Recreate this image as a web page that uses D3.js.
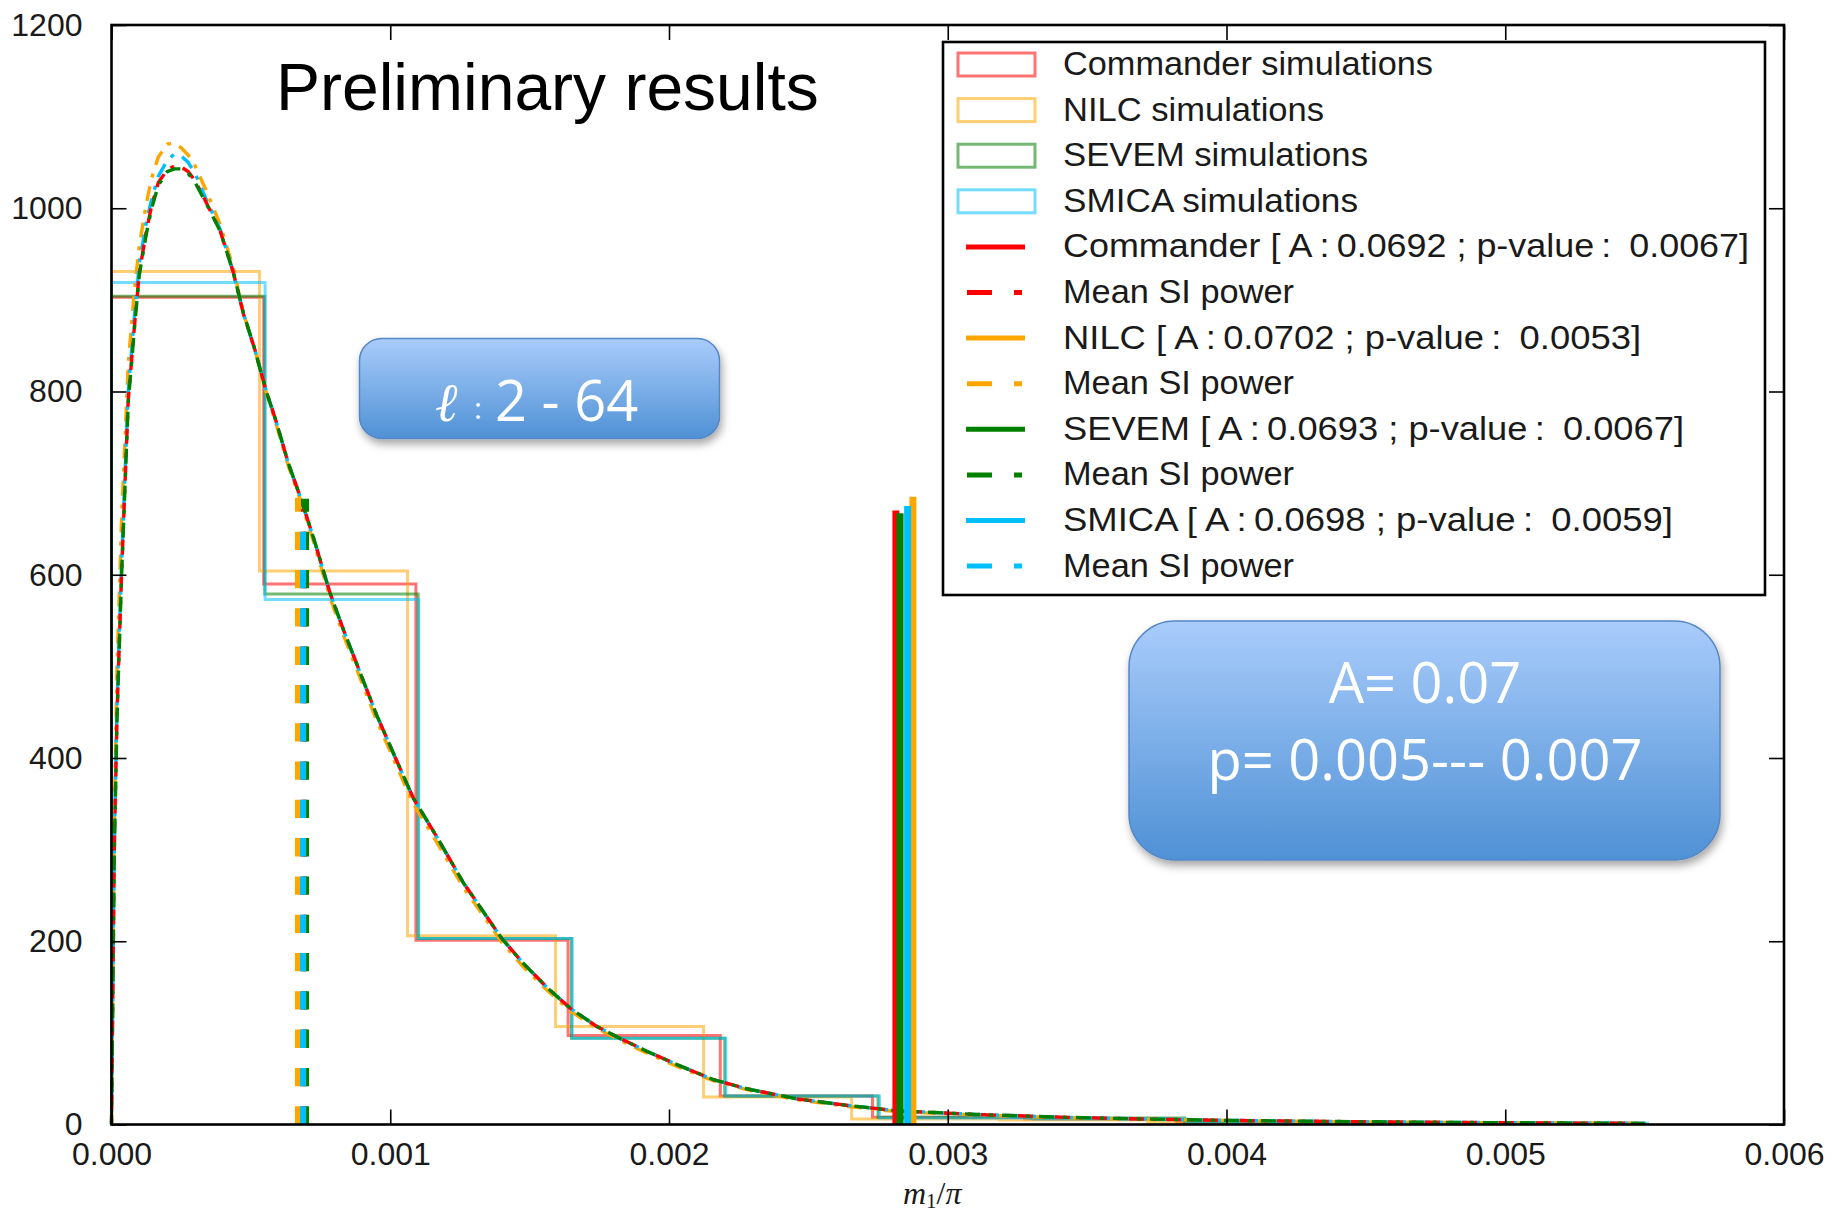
<!DOCTYPE html>
<html>
<head>
<meta charset="utf-8">
<script src="https://cdn.jsdelivr.net/npm/d3@7"></script>
<style>
  html, body { margin: 0; padding: 0; background: #ffffff; }
  svg { display: block; }
</style>
</head>
<body>
<svg id="chart" width="1831" height="1215"></svg>
<script>
// ---------------- data ----------------
const series = ["Commander", "NILC", "SEVEM", "SMICA"];
const seriesColors = ["#ff0000", "#ffa500", "#008000", "#00bfff"];

// normalised histograms of m1/pi from the simulations (10 equal bins starting at 0)
const histUpper = [0.00546, 0.00531, 0.0055, 0.00551];
const histCommander = [903, 590, 201, 97, 31, 8, 6, 2.5, 2, 1.5];
const histNILC      = [931, 604, 206, 107, 30, 6, 5, 2.5, 2, 1.5];
const histSEVEM     = [904, 579, 203, 94, 31, 8, 7, 2.5, 2, 1.5];
const histSMICA     = [919, 573, 203, 94, 31, 7, 6, 2.5, 2, 1.5];

// observed maps: amplitude, p-value, position and drawn height of the marker
const obsA = ["0.0692", "0.0702", "0.0693", "0.0698"];
const obsP = ["0.0067", "0.0053", "0.0067", "0.0059"];
const obsValue  = [0.002814, 0.002875, 0.002829, 0.002856];
const obsHeight = [670, 685, 667, 675];

// mean SI power markers
const meanValue  = [0.00069, 0.000669, 0.000698, 0.000687];
const meanHeight = [672, 684, 683, 665];

// smooth distribution curves
const curveX = [0, 0.00001, 0.00002, 0.000036, 0.00006, 0.000082, 0.0001, 0.000125, 0.000144, 0.000168,
  0.0002, 0.000225, 0.00025, 0.000275, 0.0003, 0.000342, 0.00039, 0.000437, 0.000473, 0.000515,
  0.000551, 0.000593, 0.000634, 0.000676, 0.000724, 0.000784, 0.000832,
  0.000951, 0.001023, 0.001083, 0.001167, 0.001262, 0.0014, 0.001477, 0.001561, 0.001645, 0.001741,
  0.001824, 0.00192, 0.002039, 0.002159, 0.002279, 0.002458, 0.002637, 0.002817, 0.0031, 0.0034,
  0.0037, 0.004, 0.0044, 0.0048, 0.0052, 0.0055];
const curveCommander = [0, 300, 450, 600, 790, 870, 930, 975, 1003, 1028, 1042, 1046, 1045, 1040, 1030,
  1005, 975, 930, 885, 845, 805, 765, 722, 686, 641, 580, 540,
  447, 397, 356, 314, 264, 203, 176, 150, 127, 107, 94, 80, 64, 49, 39, 28, 21, 15, 11, 8, 6, 4.5, 3.2, 2.3, 1.6, 1.2];
const curveNILC = [0, 330, 500, 660, 830, 910, 960, 1005, 1033, 1056, 1070, 1071, 1066, 1058, 1046,
  1018, 982, 935, 886, 845, 803, 762, 719, 683, 637, 575, 534,
  441, 391, 350, 308, 259, 199, 172, 147, 124, 105, 92, 78, 62, 48, 38, 27, 20, 14, 10.5, 7.5, 5.7, 4.3, 3, 2.2, 1.5, 1.1];
const curveSEVEM = [0, 295, 445, 598, 788, 868, 928, 972, 1000, 1025, 1040, 1043, 1043, 1038, 1028,
  1004, 975, 930, 886, 845, 804, 765, 722, 686, 641, 580, 540,
  447, 397, 356, 314, 264, 203, 176, 150, 127, 107, 94, 80, 64, 49, 39, 28, 21, 15, 11, 8, 6, 4.5, 3.2, 2.3, 1.6, 1.2];
const curveSMICA = [0, 305, 460, 610, 800, 881, 940, 985, 1010, 1035, 1052, 1059, 1057, 1050, 1038,
  1008, 977, 930, 885, 845, 805, 765, 722, 686, 641, 580, 540,
  447, 397, 356, 314, 264, 203, 176, 150, 127, 107, 94, 80, 64, 49, 39, 28, 21, 15, 11, 8, 6, 4.5, 3.2, 2.3, 1.6, 1.2];

const xTicks = [0, 0.001, 0.002, 0.003, 0.004, 0.005, 0.006];
const yTicks = [0, 200, 400, 600, 800, 1000, 1200];

const hists = [histCommander, histNILC, histSEVEM, histSMICA];
const curves = [curveCommander, curveNILC, curveSEVEM, curveSMICA];

// ---------------- layout ----------------
const svg = d3.select("#chart");
const x = d3.scaleLinear().domain([0, 0.006]).range([111.5, 1784]);
const y = d3.scaleLinear().domain([0, 1200]).range([1124.5, 25]);
const AXIS_FONT = "'Liberation Sans', Arial, sans-serif";

const defs = svg.append("defs");
const grad = defs.append("linearGradient").attr("id", "boxFill")
  .attr("x1", 0).attr("y1", 0).attr("x2", 0).attr("y2", 1);
grad.append("stop").attr("offset", "0%").attr("stop-color", "#a9ccfb");
grad.append("stop").attr("offset", "100%").attr("stop-color", "#4f91d5");
const shadow = defs.append("filter").attr("id", "boxShadow")
  .attr("x", "-10%").attr("y", "-10%").attr("width", "125%").attr("height", "135%");
shadow.append("feDropShadow").attr("dx", 2).attr("dy", 5).attr("stdDeviation", 4)
  .attr("flood-color", "#000").attr("flood-opacity", 0.35);

const plot = svg.append("g");

// histograms as step outlines
const line = d3.line().x(d => x(d[0])).y(d => y(d[1]));
series.forEach((name, si) => {
  const h = hists[si], n = h.length, up = histUpper[si];
  const pts = [[0, 0]];
  h.forEach((v, k) => { pts.push([up * k / n, v]); pts.push([up * (k + 1) / n, v]); });
  pts.push([up, 0]);
  plot.append("path").attr("d", line(pts))
    .attr("fill", "none").attr("stroke", seriesColors[si])
    .attr("stroke-opacity", 0.55).attr("stroke-width", 3);
});

// distribution curves (dash-dot), drawn so the colours interleave
const curveOrder = [1, 3, 0, 2];
const curveOffsets = [0, 12, 22, 5];
const curveLine = d3.line().x((d, i) => x(curveX[i])).y(d => y(d));
curveOrder.forEach((si, k) => {
  plot.append("path").attr("d", curveLine(curves[si]))
    .attr("fill", "none").attr("stroke", seriesColors[si])
    .attr("stroke-width", 3.4)
    .attr("stroke-dasharray", "15,9,4,9")
    .attr("stroke-dashoffset", curveOffsets[k]);
});

// mean SI power markers
series.forEach((name, si) => {
  plot.append("path")
    .attr("d", line([[meanValue[si], 0], [meanValue[si], meanHeight[si]]]))
    .attr("stroke", seriesColors[si]).attr("stroke-width", 6)
    .attr("stroke-dasharray", "18.3,20").attr("fill", "none");
});

// observed values (SMICA drawn last so it sits over NILC's left edge)
[0, 1, 2, 3].forEach(si => {
  plot.append("path")
    .attr("d", line([[obsValue[si], 0], [obsValue[si], obsHeight[si]]]))
    .attr("stroke", seriesColors[si]).attr("stroke-width", 7).attr("fill", "none");
});

// ---------------- axes ----------------
function styleAxis(g) {
  g.select(".domain").remove();
  g.selectAll(".tick line").attr("stroke", "#000").attr("stroke-width", 1.6);
  g.selectAll(".tick text").attr("font-family", AXIS_FONT).attr("font-size", 32).attr("fill", "#1a1a1a");
}
svg.append("g").attr("transform", `translate(0,${y(0)})`)
  .call(d3.axisBottom(x).tickValues(xTicks).tickSizeInner(-15).tickSizeOuter(0)
    .tickPadding(18).tickFormat(d3.format(".3f")))
  .call(styleAxis);
svg.append("g").attr("transform", `translate(0,${y(1200)})`)
  .call(d3.axisTop(x).tickValues(xTicks).tickSizeInner(-15).tickSizeOuter(0).tickFormat(""))
  .call(styleAxis);
svg.append("g").attr("transform", `translate(${x(0)},0)`)
  .call(d3.axisLeft(y).tickValues(yTicks).tickSizeInner(-15).tickSizeOuter(0)
    .tickPadding(29).tickFormat(d3.format("d")))
  .call(styleAxis);
svg.append("g").attr("transform", `translate(${x(0.006)},0)`)
  .call(d3.axisRight(y).tickValues(yTicks).tickSizeInner(-15).tickSizeOuter(0).tickFormat(""))
  .call(styleAxis);

svg.append("rect")
  .attr("x", x(0)).attr("y", y(1200))
  .attr("width", x(0.006) - x(0)).attr("height", y(0) - y(1200))
  .attr("fill", "none").attr("stroke", "#000").attr("stroke-width", 2.6);

// x axis label m1/pi
const xl = svg.append("text").attr("x", 903).attr("y", 1204)
  .attr("font-family", "'Liberation Serif', 'DejaVu Serif', serif").attr("font-size", 32).attr("fill", "#1a1a1a");
xl.append("tspan").attr("font-style", "italic").text("m");
xl.append("tspan").attr("font-size", 21).attr("dy", 4).text("1");
xl.append("tspan").attr("dy", -4).text("/");
xl.append("tspan").attr("font-style", "italic").text("π");

// ---------------- annotations ----------------
svg.append("text").attr("x", 276).attr("y", 110)
  .attr("font-family", AXIS_FONT).attr("font-size", 66).attr("fill", "#000")
  .text("Preliminary results");

const BOX_FONT = "'Open Sans', 'Noto Sans', sans-serif";
// multipole range box
svg.append("rect").attr("x", 359.5).attr("y", 338.5).attr("width", 360).attr("height", 100)
  .attr("rx", 22).attr("fill", "url(#boxFill)").attr("stroke", "#5586c6").attr("stroke-width", 1.5)
  .attr("filter", "url(#boxShadow)");
svg.append("text").attr("x", 435).attr("y", 421)
  .attr("font-family", "'DejaVu Serif', serif").attr("font-style", "italic")
  .attr("font-size", 54).attr("fill", "#fff").text("ℓ");
svg.append("text").attr("x", 474).attr("y", 419)
  .attr("font-family", BOX_FONT).attr("font-size", 30).attr("fill", "#fff").text(":");
svg.append("text").attr("x", 495).attr("y", 421)
  .attr("font-family", BOX_FONT).attr("font-size", 56).attr("fill", "#fff").text("2 - 64");

// result box
svg.append("rect").attr("x", 1129).attr("y", 621).attr("width", 591).attr("height", 239)
  .attr("rx", 46).attr("fill", "url(#boxFill)").attr("stroke", "#5586c6").attr("stroke-width", 1.5)
  .attr("filter", "url(#boxShadow)");
svg.append("text").attr("x", 1425).attr("y", 703).attr("text-anchor", "middle")
  .attr("font-family", BOX_FONT).attr("font-size", 56).attr("fill", "#fff").text("A= 0.07");
svg.append("text").attr("x", 1425).attr("y", 780).attr("text-anchor", "middle")
  .attr("font-family", BOX_FONT).attr("font-size", 56).attr("fill", "#fff").text("p= 0.005--- 0.007");

// ---------------- legend ----------------
const legend = svg.append("g");
legend.append("rect").attr("x", 943).attr("y", 42).attr("width", 822).attr("height", 553)
  .attr("fill", "#fff").attr("stroke", "#000").attr("stroke-width", 2.6);

const entries = [];
series.forEach((name, si) => entries.push({ kind: "patch", si, label: `${name} simulations` }));
series.forEach((name, si) => {
  entries.push({ kind: "line", si, label: `${name} [ A\u2009:\u2009${obsA[si]} ; p-value\u2009:\u2002${obsP[si]}]` });
  entries.push({ kind: "dash", si, label: "Mean SI power" });
});
const labelWidths = [370, 261, 305, 295, 686, 231, 578, 231, 621, 231, 610, 231];

entries.forEach((e, i) => {
  const base = 75 + 45.6 * i;
  const cy = base - 10.5;
  const col = seriesColors[e.si];
  if (e.kind === "patch") {
    legend.append("rect").attr("x", 958).attr("y", cy - 11.5).attr("width", 77).attr("height", 23)
      .attr("fill", "none").attr("stroke", col).attr("stroke-opacity", 0.55).attr("stroke-width", 3);
  } else if (e.kind === "line") {
    legend.append("line").attr("x1", 966).attr("x2", 1025).attr("y1", cy).attr("y2", cy)
      .attr("stroke", col).attr("stroke-width", 5);
  } else {
    legend.append("line").attr("x1", 967).attr("x2", 1025).attr("y1", cy).attr("y2", cy)
      .attr("stroke", col).attr("stroke-width", 5).attr("stroke-dasharray", "25,22,8,100");
  }
  legend.append("text").attr("x", 1063).attr("y", base)
    .attr("font-family", AXIS_FONT).attr("font-size", 33).attr("fill", "#1a1a1a")
    .attr("textLength", labelWidths[i]).attr("lengthAdjust", "spacingAndGlyphs")
    .text(e.label);
});
</script>
</body>
</html>
